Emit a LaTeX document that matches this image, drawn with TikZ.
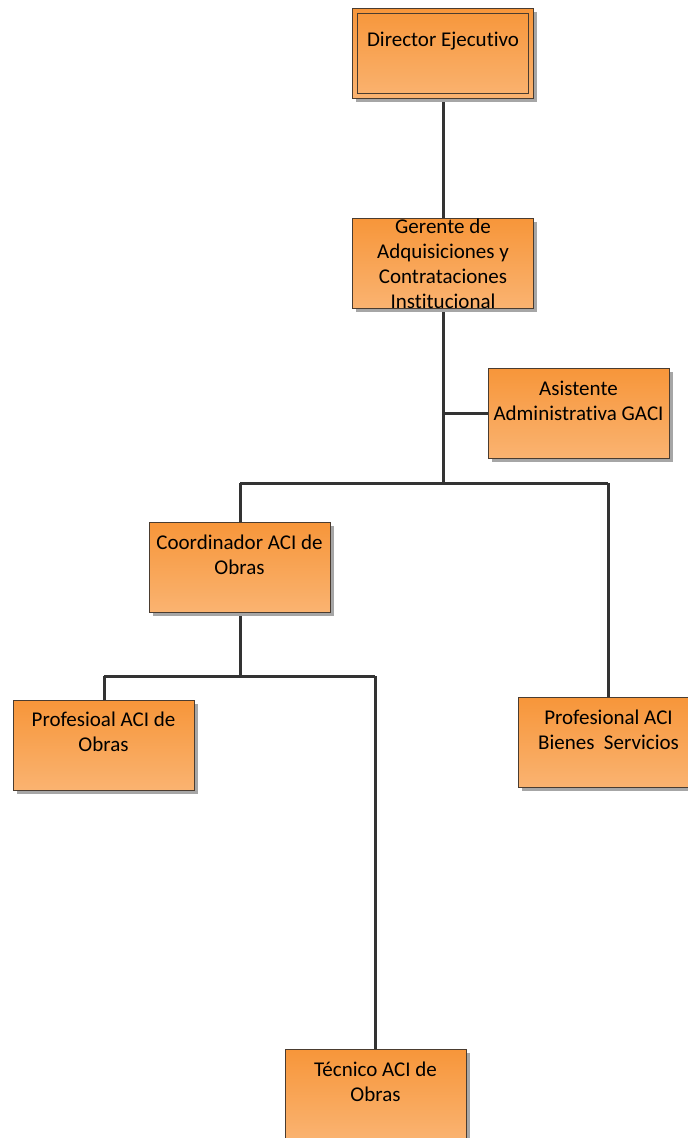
\documentclass[tikz,border=0pt]{standalone}
\usepackage{fontspec}
\setmainfont[Ligatures={NoCommon}]{Carlito}
\usetikzlibrary{shadows,calc}
\definecolor{orgtop}{HTML}{F7963A}
\definecolor{orgbot}{HTML}{FAB371}
\definecolor{orgedge}{HTML}{4A3C30}
\definecolor{wire}{HTML}{333333}
\definecolor{shade}{HTML}{A6A6A6}
\tikzset{
  unitbox/.style={rectangle, draw=orgedge, line width=0.9pt,
    top color=orgtop, bottom color=orgbot,
    minimum width=181pt, minimum height=90pt, inner sep=0pt,
    anchor=north west,
    drop shadow={shadow xshift=4pt, shadow yshift=-4pt, fill=shade, opacity=1}},
  unittext/.style={align=center, font=\fontsize{21}{25}\selectfont, inner sep=0pt, text=black},
  wireline/.style={draw=wire, line width=3pt}
}
\begin{document}
\begin{tikzpicture}[x=1pt, y=-1pt]
\useasboundingbox (0,0) rectangle (688,1138);
\clip (0,0) rectangle (688,1138);
\fill[white] (0,0) rectangle (688,1138);

% junction points of the wiring
\coordinate (gerJ) at (443,413);
\coordinate (busY) at (443,483);
\coordinate (busL) at (240,483);
\coordinate (busR) at (608,483);
\coordinate (coorJ) at (240,676);
\coordinate (subL) at (104,676);
\coordinate (subR) at (375,676);

% wiring (drawn first, boxes sit on top)
\draw[wireline] (443,98) -- (443,218);
\draw[wireline] (443,308) -- (busY);
\draw[wireline] (gerJ) -- (488,413);
\draw[wireline] (busL) -- (busR);
\draw[wireline] (busL) -- (240,522);
\draw[wireline] (busR) -- (608,697);
\draw[wireline] (240,613) -- (coorJ);
\draw[wireline] (subL) -- (subR);
\draw[wireline] (subL) -- (104,700);
\draw[wireline] (subR) -- (375,1049);

% units
\node[unitbox] (dir) at (352,8) {};
\draw[orgedge, line width=0.9pt] ([shift={(5,5)}]dir.north west) rectangle ([shift={(-5,-5)}]dir.south east);
\node[unittext] (dirT) at (443,41) {Director Ejecutivo};

\node[unitbox] (ger) at (352,218) {};
\node[unittext] (gerT) at (443,263.5) {Gerente de\\Adquisiciones y\\Contrataciones\\Institucional};

\node[unitbox] (asi) at (488,368) {};
\node[unittext] (asiT) at (578.5,400.5) {Asistente\\Administrativa GACI};

\node[unitbox] (coo) at (149,522) {};
\node[unittext] (cooT) at (239.5,555) {Coordinador ACI de\\Obras};

\node[unitbox] (pro) at (13,700) {};
\node[unittext] (proT) at (103.5,731.5) {Profesioal ACI de\\Obras};

\node[unitbox] (bie) at (518,697) {};
\node[unittext] (bieT) at (608.5,730) {Profesional ACI\\Bienes~ Servicios};

\node[unitbox] (tec) at (285,1049) {};
\node[unittext] (tecT) at (375.5,1081.5) {Técnico ACI de\\Obras};
\end{tikzpicture}
\end{document}
